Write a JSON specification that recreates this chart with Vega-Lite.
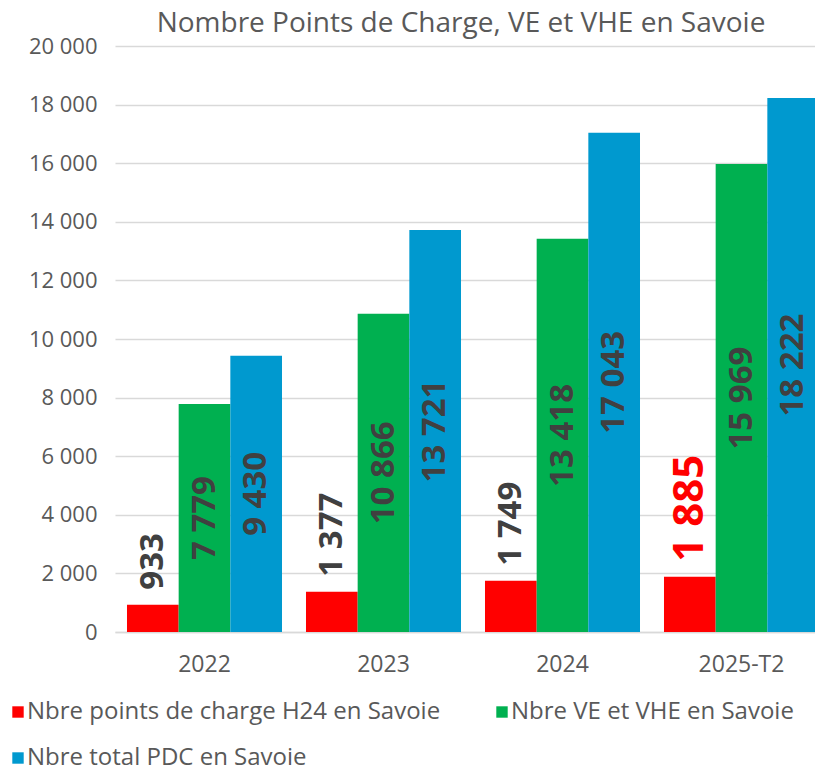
{
  "$schema": "https://vega.github.io/schema/vega-lite/v6.json",
  "width": 716,
  "height": 586,
  "padding": {"left": 6, "top": 10, "right": 0, "bottom": 0},
  "autosize": {"type": "pad"},
  "title": {
    "text": "Nombre Points de Charge, VE et VHE en Savoie",
    "fontSize": 28,
    "font": "Open Sans",
    "fontWeight": "normal",
    "color": "#595959",
    "frame": "group",
    "anchor": "middle",
    "dx": -12,
    "offset": -3
  },
  "config": {
    "view": {"stroke": null},
    "font": "Open Sans",
    "locale": {
      "number": {"decimal": ",", "thousands": " ", "grouping": [3], "currency": ["", " €"]}
    },
    "axisX": {
      "labelFontSize": 23,
      "labelColor": "#595959",
      "labelFont": "Open Sans",
      "ticks": false,
      "domainColor": "#D9D9D9",
      "domainWidth": 1.5,
      "labelPadding": 21,
      "labelAngle": 0,
      "title": null
    },
    "axisY": {
      "labelFontSize": 22,
      "labelColor": "#595959",
      "labelFont": "Open Sans",
      "ticks": false,
      "domain": false,
      "gridColor": "#D9D9D9",
      "gridWidth": 1.3,
      "labelPadding": 18,
      "title": null
    },
    "legend": {
      "title": null,
      "orient": "none",
      "legendX": -109,
      "legendY": 654,
      "columns": 2,
      "direction": "horizontal",
      "symbolType": "square",
      "symbolSize": 130,
      "symbolStrokeWidth": 0,
      "labelFontSize": 24,
      "labelColor": "#595959",
      "labelFont": "Open Sans",
      "labelOffset": -3,
      "labelLimit": 0,
      "columnPadding": 49,
      "rowPadding": 22
    }
  },
  "data": {
    "values": [
      {"period": "2022", "serie": "Nbre points de charge H24 en Savoie", "value": 933},
      {"period": "2022", "serie": "Nbre VE et VHE en Savoie", "value": 7779},
      {"period": "2022", "serie": "Nbre total PDC en Savoie", "value": 9430},
      {"period": "2023", "serie": "Nbre points de charge H24 en Savoie", "value": 1377},
      {"period": "2023", "serie": "Nbre VE et VHE en Savoie", "value": 10866},
      {"period": "2023", "serie": "Nbre total PDC en Savoie", "value": 13721},
      {"period": "2024", "serie": "Nbre points de charge H24 en Savoie", "value": 1749},
      {"period": "2024", "serie": "Nbre VE et VHE en Savoie", "value": 13418},
      {"period": "2024", "serie": "Nbre total PDC en Savoie", "value": 17043},
      {"period": "2025-T2", "serie": "Nbre points de charge H24 en Savoie", "value": 1885},
      {"period": "2025-T2", "serie": "Nbre VE et VHE en Savoie", "value": 15969},
      {"period": "2025-T2", "serie": "Nbre total PDC en Savoie", "value": 18222}
    ]
  },
  "layer": [
    {
      "mark": {"type": "bar"},
      "encoding": {
        "x": {"field": "period", "type": "nominal", "sort": null, "title": null,
              "scale": {"paddingInner": 0.134, "paddingOuter": 0.067}},
        "xOffset": {"field": "serie", "type": "nominal",
                    "scale": {"domain": ["Nbre points de charge H24 en Savoie", "Nbre VE et VHE en Savoie", "Nbre total PDC en Savoie"], "paddingInner": 0, "paddingOuter": 0}},
        "y": {"field": "value", "type": "quantitative", "title": null,
              "scale": {"domain": [0, 20000], "nice": false},
              "axis": {"values": [0, 2000, 4000, 6000, 8000, 10000, 12000, 14000, 16000, 18000, 20000], "format": ",d"}},
        "color": {"field": "serie", "type": "nominal",
                  "scale": {"domain": ["Nbre points de charge H24 en Savoie", "Nbre VE et VHE en Savoie", "Nbre total PDC en Savoie"],
                            "range": ["#FF0000", "#00B050", "#0099CF"]}}
      }
    },
    {
      "transform": [{"filter": "datum.serie === 'Nbre points de charge H24 en Savoie'"}],
      "mark": {"type": "text", "angle": 270, "align": "left", "baseline": "middle", "dx": 15, "fontWeight": "bold", "font": "Open Sans"},
      "encoding": {
        "x": {"field": "period", "type": "nominal", "sort": null, "title": null},
        "xOffset": {"field": "serie", "type": "nominal",
                    "scale": {"domain": ["Nbre points de charge H24 en Savoie", "Nbre VE et VHE en Savoie", "Nbre total PDC en Savoie"]}},
        "y": {"field": "value", "type": "quantitative", "scale": {"domain": [0, 20000], "nice": false}, "axis": null},
        "text": {"field": "value", "type": "quantitative", "format": ",d"},
        "color": {"condition": {"test": "datum.period === '2025-T2'", "value": "#FF0000"}, "value": "#404040"},
        "size": {"condition": {"test": "datum.period === '2025-T2'", "value": 42}, "value": 33}
      }
    },
    {
      "transform": [{"filter": "datum.serie !== 'Nbre points de charge H24 en Savoie'"}],
      "mark": {"type": "text", "angle": 270, "align": "center", "baseline": "middle", "fontWeight": "bold", "fontSize": 33, "color": "#404040", "font": "Open Sans"},
      "encoding": {
        "x": {"field": "period", "type": "nominal", "sort": null, "title": null},
        "xOffset": {"field": "serie", "type": "nominal",
                    "scale": {"domain": ["Nbre points de charge H24 en Savoie", "Nbre VE et VHE en Savoie", "Nbre total PDC en Savoie"]}},
        "y": {"field": "value", "type": "quantitative", "scale": {"domain": [0, 40000], "nice": false}, "axis": null},
        "text": {"field": "value", "type": "quantitative", "format": ",d"}
      }
    }
  ],
  "resolve": {"scale": {"y": "independent"}}
}
